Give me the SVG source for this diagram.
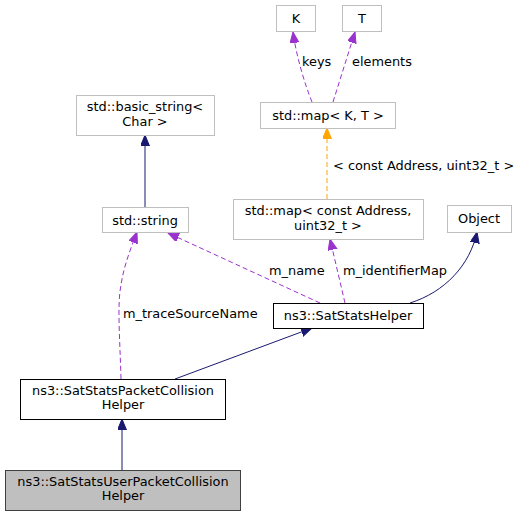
<svg xmlns="http://www.w3.org/2000/svg" width="520" height="516" viewBox="0 0 520 516">
<style>
text{font-family:"DejaVu Sans","Liberation Sans",sans-serif;font-size:12.9px;fill:#000}
.n text{text-anchor:middle}
.g{fill:#fff;stroke:#bfbfbf;stroke-width:1}
.b{fill:#fff;stroke:#000;stroke-width:1}
.cur{fill:#bfbfbf;stroke:#404040;stroke-width:1}
.inh{fill:none;stroke:#191970;stroke-width:1}
.use{fill:none;stroke:#9a32cd;stroke-width:1;stroke-dasharray:5,3}
.tpl{fill:none;stroke:#ffa500;stroke-width:1;stroke-dasharray:5,3}
</style>
<defs>
<marker id="aN" markerUnits="userSpaceOnUse" markerWidth="12" markerHeight="10" refX="11" refY="4.5" orient="auto"><path d="M0,0 L11,4.5 L0,9 z" fill="#191970" stroke="#191970"/></marker>
<marker id="aP" markerUnits="userSpaceOnUse" markerWidth="12" markerHeight="10" refX="11" refY="4.5" orient="auto"><path d="M0,0 L11,4.5 L0,9 z" fill="#9a32cd" stroke="#9a32cd"/></marker>
<marker id="aO" markerUnits="userSpaceOnUse" markerWidth="12" markerHeight="10" refX="11" refY="4.5" orient="auto"><path d="M0,0 L11,4.5 L0,9 z" fill="#ffa500" stroke="#ffa500"/></marker>
</defs>
<g id="edges">
<path class="inh" d="M145,207 L145,135" marker-end="url(#aN)"/>
<path class="use" d="M320,303 L168,233" marker-end="url(#aP)"/>
<path class="use" d="M345,303 L330,239" marker-end="url(#aP)"/>
<path class="inh" d="M410,303 C445,292 470,265 477,232" marker-end="url(#aN)"/>
<path class="tpl" d="M327,199 L327,128" marker-end="url(#aO)"/>
<path class="use" d="M312,102 C305,85 296,55 293,32" marker-end="url(#aP)"/>
<path class="use" d="M333,102 L355,32" marker-end="url(#aP)"/>
<path class="inh" d="M175,379 L312,328" marker-end="url(#aN)"/>
<path class="use" d="M121,379 C120,340 117,305 121,285 C124,265 131,248 137,232" marker-end="url(#aP)"/>
<path class="inh" d="M122,470 L122,419" marker-end="url(#aN)"/>
<text x="302" y="66">keys</text>
<text x="352" y="66">elements</text>
<text x="333" y="170">&lt; const Address, uint32_t &gt;</text>
<text x="269" y="275">m_name</text>
<text x="343" y="275">m_identifierMap</text>
<text x="123" y="318">m_traceSourceName</text>
</g>
<g id="K" class="n"><rect class="g" x="276.5" y="5.5" width="39" height="26"/><text x="296" y="22.5">K</text></g>
<g id="T" class="n"><rect class="g" x="342.5" y="5.5" width="39" height="26"/><text x="362" y="22.5">T</text></g>
<g id="mapKT" class="n"><rect class="g" x="260.5" y="102.5" width="135" height="26"/><text x="328" y="120">std::map&lt; K, T &gt;</text></g>
<g id="basic_string" class="n"><rect class="g" x="76.5" y="95.5" width="138" height="40"/><text x="145" y="111">std::basic_string&lt;</text><text x="145" y="125.5">Char &gt;</text></g>
<g id="string" class="n"><rect class="g" x="102.5" y="207.5" width="86" height="25"/><text x="145" y="224.5">std::string</text></g>
<g id="mapAddr" class="n"><rect class="g" x="233.5" y="199.5" width="190" height="40"/><text x="328" y="215">std::map&lt; const Address,</text><text x="328" y="229.5">uint32_t &gt;</text></g>
<g id="Object" class="n"><rect class="g" x="447.5" y="205.5" width="64" height="27"/><text x="479" y="223">Object</text></g>
<g id="SatStatsHelper" class="n"><rect class="b" x="273.5" y="303.5" width="150" height="25"/><text x="348" y="320">ns3::SatStatsHelper</text></g>
<g id="PacketCollision" class="n"><rect class="b" x="20.5" y="379.5" width="205" height="40"/><text x="123" y="394.5">ns3::SatStatsPacketCollision</text><text x="123" y="409">Helper</text></g>
<g id="UserPacketCollision" class="n"><rect class="cur" x="5.5" y="470.5" width="235" height="40"/><text x="123" y="485.5">ns3::SatStatsUserPacketCollision</text><text x="123" y="500">Helper</text></g>
</svg>
